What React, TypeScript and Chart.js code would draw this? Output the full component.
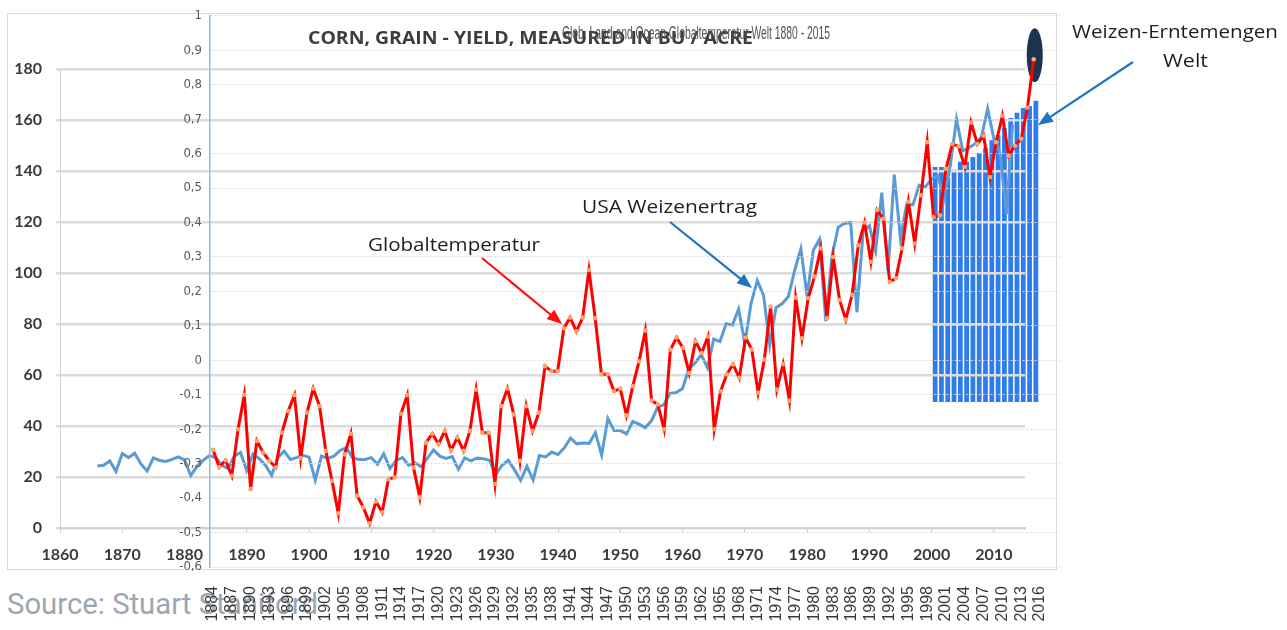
import React, { useEffect, useLayoutEffect, useRef } from 'react';
import { Chart, registerables } from 'chart.js';
Chart.register(...registerables);

// ---------- DATA ----------
// USA corn yield (bu/acre), one value per year starting 1866
const cornStartYear = 1866;
const cornYield = [
  24.3, 24.6, 26.3, 22.2, 29.2, 27.6, 29.3, 25.1, 22.3, 27.5, // 1866-1875
  26.5, 26.1, 26.9, 27.9, 26.7, 20.6, 24.2, 26.5, 28.4, 27.6, // 1876-1885
  24.6, 23.3, 28.2, 29.6, 22.5, 29.0, 27.2, 24.6, 20.7, 27.6, // 1886-1895
  30.2, 26.9, 27.6, 28.5, 27.8, 18.8, 28.2, 27.3, 28.2, 30.4, // 1896-1905
  31.5, 27.6, 26.9, 26.9, 27.6, 25.0, 29.1, 23.3, 26.5, 27.6, // 1906-1915
  24.6, 25.6, 24.0, 27.3, 30.6, 28.2, 27.3, 28.0, 23.0, 27.5, // 1916-1925
  26.3, 27.4, 27.2, 26.5, 21.0, 24.6, 26.6, 22.8, 18.7, 24.2, // 1926-1935
  18.8, 28.4, 27.9, 29.8, 28.8, 31.4, 35.3, 33.0, 33.3, 33.2, // 1936-1945
  37.4, 28.6, 43.0, 38.2, 38.2, 36.9, 41.8, 40.7, 39.4, 42.0, // 1946-1955
  47.4, 48.3, 52.8, 53.1, 54.7, 62.4, 64.7, 67.9, 62.9, 74.1, // 1956-1965
  73.1, 80.1, 79.5, 85.9, 72.4, 88.1, 97.0, 91.3, 71.9, 86.4, // 1966-1975
  88.0, 90.8, 101.0, 109.5, 91.0, 108.9, 113.2, 81.1, 106.7, 118.0, // 1976-1985
  119.4, 119.8, 84.6, 116.3, 118.5, 108.6, 131.5, 100.7, 138.6, 113.5, // 1986-1995
  127.1, 126.7, 134.4, 133.8, 136.9, 138.2, 129.3, 142.2, 160.3, 147.9, // 1996-2005
  149.1, 150.7, 153.3, 164.4, 152.6, 146.8, 123.1, 158.1, // 2006-2013
];

// Global land+ocean temperature anomaly, one value per year starting 1884
const tempStartYear = 1884;
const globalTemp = [
  -0.26, -0.31, -0.29, -0.335, -0.2, -0.1, -0.374, -0.234, -0.268, -0.292, // 1884-1893
  -0.311, -0.21, -0.147, -0.101, -0.284, -0.152, -0.082, -0.133, -0.263, -0.35, // 1894-1903
  -0.444, -0.273, -0.213, -0.393, -0.427, -0.473, -0.41, -0.441, -0.345, -0.34, // 1904-1913
  -0.155, -0.101, -0.311, -0.398, -0.239, -0.213, -0.243, -0.205, -0.261, -0.224, // 1914-1923
  -0.263, -0.205, -0.085, -0.21, -0.21, -0.359, -0.133, -0.082, -0.157, -0.292, // 1924-1933
  -0.133, -0.205, -0.152, -0.017, -0.032, -0.032, 0.093, 0.124, 0.084, 0.124, // 1934-1943
  0.262, 0.122, -0.041, -0.04, -0.09, -0.082, -0.16, -0.075, -0.003, 0.086, // 1944-1953
  -0.117, -0.128, -0.2, 0.031, 0.066, 0.036, -0.037, 0.055, 0.021, 0.069, // 1954-1963
  -0.2, -0.09, -0.041, -0.012, -0.051, 0.066, 0.031, -0.094, 0.002, 0.156, // 1964-1973
  -0.085, -0.011, -0.117, 0.182, 0.064, 0.18, 0.243, 0.325, 0.122, 0.3, // 1974-1983
  0.175, 0.118, 0.19, 0.334, 0.4, 0.286, 0.436, 0.411, 0.228, 0.238, // 1984-1993
  0.325, 0.46, 0.339, 0.479, 0.633, 0.416, 0.421, 0.556, 0.628, 0.621, // 1994-2003
  0.561, 0.69, 0.628, 0.652, 0.532, 0.633, 0.71, 0.594, 0.623, 0.643, // 2004-2013
  0.734, 0.874, // 2014-2015
];

// World wheat harvest bars
const wheatYears = ['2000', '2001', '2002', '2003', '2004', '2005', '2006', '2007', '2008',
  '2009', '2010', '2011', '2012', '2013', '2014', '2015', '2016'];
const wheatHarvest = [586, 586, 559, 579, 599, 599, 611, 621, 633, 653, 666, 683, 708, 721, 733, 738, 751];

// Tick labels
const tempTickYears = [1884, 1887, 1890, 1893, 1896, 1899, 1902, 1905, 1908, 1911, 1914, 1917,
  1920, 1923, 1926, 1929, 1932, 1935, 1938, 1941, 1944, 1947, 1950, 1953, 1956, 1959, 1962,
  1965, 1968, 1971, 1974, 1977, 1980, 1983, 1986, 1989, 1992, 1995, 1998, 2001, 2004, 2007,
  2010, 2013, 2016];

// Texts
const titleText = 'CORN, GRAIN - YIELD, MEASURED IN BU / ACRE';
const subTitleText = 'Glob. Land and Ocean Globaltemperatur Welt 1880 - 2015';
const labelTemp = 'Globaltemperatur';
const labelCorn = 'USA Weizenertrag';
const labelWheat1 = 'Weizen-Erntemengen';
const labelWheat2 = 'Welt';
const sourceText = 'Source: Stuart Staniford';

const W = 1287;
const H = 630;

const fmtComma = (v: number) => {
  const r = Math.round(v * 10) / 10;
  if (r === 0) return '0';
  if (Number.isInteger(r)) return String(r);
  return r.toFixed(1).replace('.', ',');
};

function FitText(props: { text: string; left: number; top: number; width: number; style: React.CSSProperties }) {
  const ref = useRef<HTMLDivElement>(null);
  useLayoutEffect(() => {
    const el = ref.current;
    if (!el) return;
    el.style.transform = 'none';
    const w = el.getBoundingClientRect().width;
    if (w > 0) el.style.transform = `scaleX(${props.width / w})`;
  }, [props.text, props.width]);
  return (
    <div
      ref={ref}
      style={{
        position: 'absolute', left: props.left, top: props.top, whiteSpace: 'nowrap',
        transformOrigin: '0 0', lineHeight: 1, ...props.style,
      }}
    >
      {props.text}
    </div>
  );
}

function arrowPoly(x1: number, y1: number, x2: number, y2: number, len: number, half: number) {
  const dx = x2 - x1, dy = y2 - y1;
  const L = Math.hypot(dx, dy);
  const ux = dx / L, uy = dy / L;
  const bx = x2 - ux * len, by = y2 - uy * len;
  const px = -uy, py = ux;
  return {
    line: { x1, y1, x2: bx + ux * 2, y2: by + uy * 2 },
    pts: `${x2},${y2} ${bx + px * half},${by + py * half} ${bx - px * half},${by - py * half}`,
  };
}

function Arrow(p: { x1: number; y1: number; x2: number; y2: number; color: string }) {
  const a = arrowPoly(p.x1, p.y1, p.x2, p.y2, 15, 6);
  return (
    <g>
      <line x1={a.line.x1} y1={a.line.y1} x2={a.line.x2} y2={a.line.y2} stroke={p.color} strokeWidth={2.2} />
      <polygon points={a.pts} fill={p.color} />
    </g>
  );
}

const canvasStyle: React.CSSProperties = { position: 'absolute', left: 0, top: 0, width: W, height: H, display: 'block' };

export default function App() {
  const refA = useRef<HTMLCanvasElement>(null);
  const refB = useRef<HTMLCanvasElement>(null);
  const refC = useRef<HTMLCanvasElement>(null);

  useEffect(() => {
    const charts: Chart[] = [];

    // C: world wheat bars (bottom layer)
    charts.push(new Chart(refC.current!, {
      type: 'bar',
      data: {
        labels: wheatYears,
        datasets: [{
          data: wheatHarvest,
          backgroundColor: '#2f7cef',
          barPercentage: 0.76,
          categoryPercentage: 1,
        }],
      },
      options: {
        responsive: false,
        animation: false,
        events: [],
        layout: { padding: { left: 932, right: W - 1039, top: 13, bottom: H - 402 } },
        plugins: { legend: { display: false }, tooltip: { enabled: false } },
        scales: {
          x: { display: false },
          y: { display: false, min: 0, max: 970 },
        },
      },
    }));

    // A: USA yield (blue)
    charts.push(new Chart(refA.current!, {
      type: 'line',
      data: {
        datasets: [{
          data: cornYield.map((v, i) => ({ x: cornStartYear + i, y: v })),
          borderColor: '#5b9bd5',
          borderWidth: 3,
          pointRadius: 0,
          tension: 0,
        }],
      },
      options: {
        responsive: false,
        animation: false,
        events: [],
        layout: { padding: { left: 0, top: 69, right: W - 1025, bottom: H - 528 - 40 } },
        plugins: { legend: { display: false }, tooltip: { enabled: false } },
        scales: {
          x: {
            type: 'linear', min: 1860, max: 2015,
            ticks: {
              stepSize: 10, includeBounds: false, maxRotation: 0, autoSkip: false,
              callback: (v: any) => String(v),
              font: { family: 'Lato', weight: 'bold', size: 16 }, color: '#3a3a3a', padding: 12,
            },
            grid: { drawOnChartArea: false, drawTicks: true, tickLength: 5, color: '#cfcfcf' },
            border: { display: true, color: '#d2d2d2', width: 2 },
            afterFit: (s: any) => { s.height = 40; },
          },
          y: {
            min: 0, max: 180,
            ticks: {
              stepSize: 20,
              font: { family: 'Lato', weight: 'bold', size: 16 }, color: '#3a3a3a', padding: 14,
            },
            grid: { color: '#dcdcdc', lineWidth: 2.5, tickLength: 4 },
            border: { display: true, color: '#d2d2d2', width: 1 },
            afterFit: (s: any) => { s.width = 60; },
          },
        },
      },
    }));

    // B: temperature (red)
    const ellipsePlugin = {
      id: 'markEllipse',
      beforeDatasetsDraw(chart: any) {
        const meta = chart.getDatasetMeta(0);
        const pt = meta.data[meta.data.length - 1];
        if (!pt) return;
        const ctx = chart.ctx;
        ctx.save();
        ctx.fillStyle = '#1d3352';
        ctx.beginPath();
        ctx.ellipse(pt.x + 1, pt.y - 4, 8, 27, 0, 0, Math.PI * 2);
        ctx.fill();
        ctx.restore();
      },
    };

    charts.push(new Chart(refB.current!, {
      type: 'line',
      data: {
        datasets: [{
          data: globalTemp.map((v, i) => ({ x: tempStartYear + i, y: v })),
          borderColor: '#ff0000',
          borderWidth: 3,
          pointRadius: 2.3,
          pointBackgroundColor: '#f7a66d',
          pointBorderWidth: 0,
          tension: 0,
        }],
      },
      plugins: [ellipsePlugin],
      options: {
        responsive: false,
        animation: false,
        events: [],
        layout: { padding: { left: 0, top: 13, right: W - 1060, bottom: H - 567 - 60 } },
        plugins: { legend: { display: false }, tooltip: { enabled: false } },
        scales: {
          x: {
            type: 'linear', min: 1883.52, max: 2019.19,
            afterBuildTicks: (s: any) => { s.ticks = tempTickYears.map((v) => ({ value: v })); },
            ticks: {
              autoSkip: false, minRotation: 90, maxRotation: 90,
              callback: (v: any) => String(v),
              font: { family: 'Liberation Sans', size: 16 }, color: '#3a3a3a', padding: 11,
            },
            grid: { display: false },
            border: { display: false },
            afterFit: (s: any) => { s.height = 60; },
          },
          y: {
            min: -0.6, max: 1,
            ticks: {
              stepSize: 0.1,
              callback: (v: any) => fmtComma(Number(v)),
              font: { family: "'Liberation Sans Narrow', 'DejaVu Sans Condensed', 'Arial Narrow', sans-serif", size: 13 },
              color: '#595959', padding: 8,
            },
            grid: { color: '#d9d9d9', lineWidth: 1, drawTicks: false },
            border: { display: true, color: '#8fbbe6', width: 1.5, dash: [2, 2] },
            afterFit: (s: any) => { s.width = 210; },
          },
        },
      },
    }));

    return () => { charts.forEach((c) => c.destroy()); };
  }, []);

  const annoFont = "'Open Sans', sans-serif";

  return (
    <div style={{ position: 'absolute', left: 0, top: 0, width: W, height: H, background: '#ffffff', overflow: 'hidden' }}>
      <div style={{ position: 'absolute', left: 7, top: 13, width: 1050, height: 557, border: '1px solid #dadada', boxSizing: 'border-box' }} />
      <FitText text={sourceText} left={7} top={589} width={311}
        style={{ fontFamily: 'Roboto, sans-serif', fontWeight: 400, fontSize: 30, color: '#9ba6b2' }} />
      <canvas ref={refC} width={W} height={H} style={canvasStyle} />
      <canvas ref={refA} width={W} height={H} style={canvasStyle} />
      <canvas ref={refB} width={W} height={H} style={canvasStyle} />
      <FitText text={titleText} left={308} top={28} width={445}
        style={{ fontFamily: annoFont, fontWeight: 700, fontSize: 18, color: '#3d3d3d' }} />
      <FitText text={subTitleText} left={562} top={24} width={268}
        style={{ fontFamily: "'Liberation Sans Narrow', 'Liberation Sans', sans-serif", fontSize: 18, color: '#555555' }} />
      <FitText text={labelTemp} left={368} top={235} width={172}
        style={{ fontFamily: annoFont, fontSize: 19, color: '#1e1e1e' }} />
      <FitText text={labelCorn} left={582} top={197} width={175}
        style={{ fontFamily: annoFont, fontSize: 19, color: '#1e1e1e' }} />
      <FitText text={labelWheat1} left={1072} top={22} width={206}
        style={{ fontFamily: annoFont, fontSize: 19, color: '#1e1e1e' }} />
      <FitText text={labelWheat2} left={1163} top={51} width={45}
        style={{ fontFamily: annoFont, fontSize: 19, color: '#1e1e1e' }} />
      <svg width={W} height={H} style={{ position: 'absolute', left: 0, top: 0 }}>
        <Arrow x1={482} y1={258} x2={562} y2={324} color="#ff1010" />
        <Arrow x1={670} y1={222} x2={752} y2={288} color="#1f74c4" />
        <Arrow x1={1133} y1={62} x2={1038} y2={125} color="#1f74c4" />
      </svg>
    </div>
  );
}
